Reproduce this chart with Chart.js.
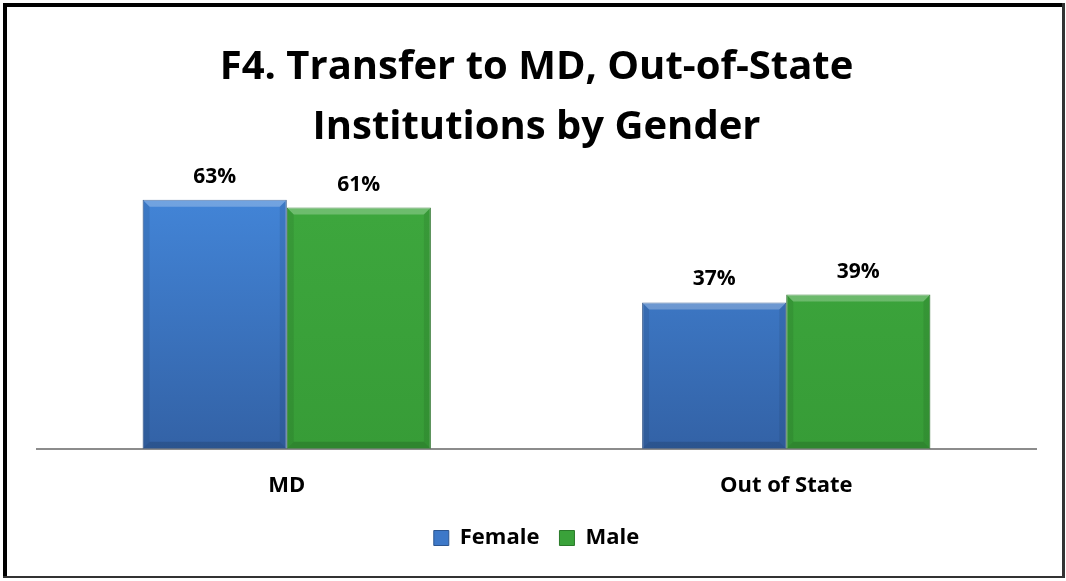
<!DOCTYPE html>
<html lang="en">
<head>
  <meta charset="UTF-8">
  <title>F4. Transfer to MD, Out-of-State Institutions by Gender</title>
  <script src="https://cdn.jsdelivr.net/npm/chart.js@4.4.0/dist/chart.umd.min.js"></script>
  <style>
    html, body { margin: 0; padding: 0; background: #fff; }
    .chart-container { position: relative; width: 1066px; height: 581px; }
  </style>
</head>
<body>
  <div class="chart-container">
    <canvas id="transferChart"></canvas>
  </div>

  <script>
    // chart data
    const categories = ['MD', 'Out of State'];
    const seriesNames = ['Female', 'Male'];
    const femaleValues = [63, 37];
    const maleValues = [61, 39];
    const titleLines = ['F4. Transfer to MD, Out-of-State', 'Institutions by Gender'];

    const FONT = "'Open Sans', Lato, sans-serif";

    const palette = {
      Female: { top: '#4488dc', bottom: '#3362a6', edge: '#2c5590', solid: '#3d78c8' },
      Male:   { top: '#3ea83e', bottom: '#379c37', edge: '#2a7a2a', solid: '#3aa23a' }
    };

    function barFill(name) {
      return (ctx) => {
        const area = ctx.chart.chartArea;
        const p = palette[name];
        if (!area) return p.solid;
        const g = ctx.chart.ctx.createLinearGradient(0, area.top, 0, area.bottom);
        g.addColorStop(0, p.top);
        g.addColorStop(1, p.bottom);
        return g;
      };
    }

    // bevelled look on top of each bar
    const bevelPlugin = {
      id: 'bevel',
      afterDatasetsDraw(chart) {
        const ctx = chart.ctx;
        chart.data.datasets.forEach((ds, i) => {
          chart.getDatasetMeta(i).data.forEach(bar => {
            const left = bar.x - bar.width / 2, right = bar.x + bar.width / 2;
            const top = bar.y, bottom = bar.base, b = 7;
            ctx.save();
            ctx.fillStyle = 'rgba(255,255,255,0.25)';
            ctx.beginPath();
            ctx.moveTo(left, top); ctx.lineTo(right, top);
            ctx.lineTo(right - b, top + b); ctx.lineTo(left + b, top + b);
            ctx.closePath(); ctx.fill();
            ctx.fillStyle = 'rgba(0,0,0,0.08)';
            ctx.beginPath();
            ctx.moveTo(left, top); ctx.lineTo(left + b, top + b);
            ctx.lineTo(left + b, bottom - b); ctx.lineTo(left, bottom);
            ctx.closePath(); ctx.fill();
            ctx.beginPath();
            ctx.moveTo(right, top); ctx.lineTo(right - b, top + b);
            ctx.lineTo(right - b, bottom - b); ctx.lineTo(right, bottom);
            ctx.closePath(); ctx.fill();
            ctx.fillStyle = 'rgba(0,0,0,0.14)';
            ctx.beginPath();
            ctx.moveTo(left, bottom); ctx.lineTo(left + b, bottom - b);
            ctx.lineTo(right - b, bottom - b); ctx.lineTo(right, bottom);
            ctx.closePath(); ctx.fill();
            ctx.restore();
          });
        });
      }
    };

    const valueLabels = {
      id: 'valueLabels',
      afterDatasetsDraw(chart) {
        const ctx = chart.ctx;
        ctx.save();
        ctx.font = 'bold 21px ' + FONT;
        ctx.fillStyle = '#000';
        ctx.textAlign = 'center';
        ctx.textBaseline = 'middle';
        chart.data.datasets.forEach((ds, i) => {
          chart.getDatasetMeta(i).data.forEach((bar, j) => {
            ctx.fillText(ds.data[j] + '%', bar.x, bar.y - 23);
          });
        });
        ctx.restore();
      }
    };

    const frame = {
      id: 'frame',
      afterDraw(chart) {
        const ctx = chart.ctx;
        ctx.save();
        ctx.fillStyle = '#000';
        ctx.fillRect(3, 3, 1061, 4);
        ctx.fillRect(3, 3, 4, 575);
        ctx.fillStyle = '#333';
        ctx.fillRect(1062, 3, 3, 575);
        ctx.fillRect(3, 576, 1062, 2);
        ctx.restore();
      }
    };

    new Chart(document.getElementById('transferChart'), {
      type: 'bar',
      data: {
        labels: categories,
        datasets: [
          { label: seriesNames[0], data: femaleValues, backgroundColor: barFill('Female'),
            borderColor: palette.Female.edge, borderWidth: 1 },
          { label: seriesNames[1], data: maleValues, backgroundColor: barFill('Male'),
            borderColor: palette.Male.edge, borderWidth: 1 }
        ]
      },
      options: {
        responsive: true,
        maintainAspectRatio: false,
        animation: false,
        layout: { padding: { top: 38, left: 37, right: 30, bottom: 22 } },
        datasets: { bar: { categoryPercentage: 0.577, barPercentage: 1 } },
        scales: {
          x: {
            grid: { display: false, drawTicks: true, tickLength: 16 },
            border: { display: true, color: '#8c8c8c', width: 2 },
            ticks: { color: '#000', padding: 9, font: { family: FONT, size: 22, weight: 'bold', lineHeight: 1.1 } }
          },
          y: { display: false, min: 0, max: 70 }
        },
        plugins: {
          title: {
            display: true,
            text: titleLines,
            color: '#000',
            padding: { top: 0, bottom: 14 },
            font: { family: FONT, size: 40, weight: 'bold', lineHeight: 1.5 }
          },
          legend: {
            position: 'bottom',
            labels: {
              color: '#000',
              boxWidth: 15,
              boxHeight: 15,
              padding: 20,
              font: { family: FONT, size: 22, weight: 'bold' },
              generateLabels(chart) {
                return Chart.defaults.plugins.legend.labels.generateLabels(chart).map((l, i) => {
                  l.fillStyle = palette[seriesNames[i]].solid;
                  l.strokeStyle = palette[seriesNames[i]].edge;
                  l.lineWidth = 1;
                  return l;
                });
              }
            }
          },
          tooltip: { enabled: false }
        }
      },
      plugins: [bevelPlugin, valueLabels, frame]
    });
  </script>
</body>
</html>
